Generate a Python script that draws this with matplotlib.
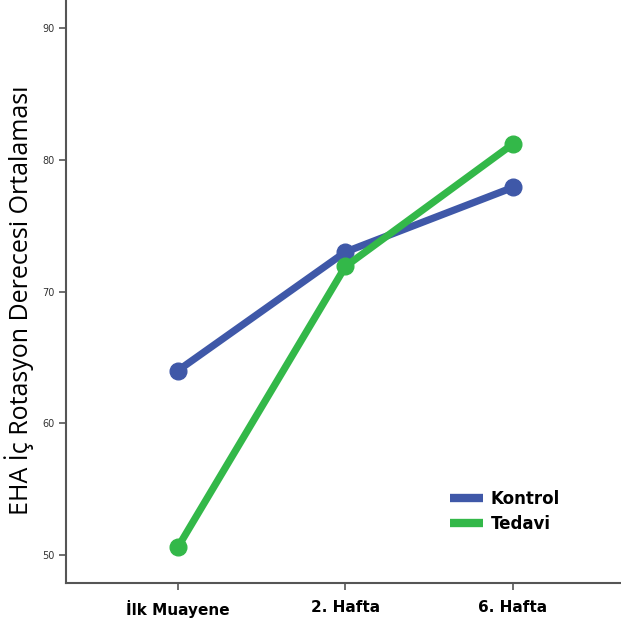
import matplotlib
matplotlib.use('Agg')
import matplotlib.pyplot as plt

# data
categories = ['İlk Muayene', '2. Hafta', '6. Hafta']
kontrol = [64.0, 73.0, 77.9]
tedavi = [50.6, 71.9, 81.2]
y_ticks = [50, 60, 70, 80, 90]

fig = plt.figure(figsize=(6.21, 6.31), dpi=100)
ax = fig.add_axes([66 / 621, 48 / 631, 1 - 66 / 621, 1 - 48 / 631])

x = list(range(len(categories)))
ax.plot(x, kontrol, color='#3F58A8', lw=5.2, marker='o', markersize=12,
        label='Kontrol', solid_capstyle='butt')
ax.plot(x, tedavi, color='#33B849', lw=5.2, marker='o', markersize=12,
        label='Tedavi', solid_capstyle='butt')

ax.set_xlim(-0.668, 2.645)
ax.set_ylim(47.88, 92.12)
ax.set_xticks(x)
ax.set_xticklabels(categories, fontsize=11, fontweight='bold')
ax.set_yticks(y_ticks)
ax.set_yticklabels([str(t) for t in y_ticks], fontsize=7, color='#333333')
ax.tick_params(axis='both', length=5, width=1.2, color='#555555')
ax.tick_params(axis='x', pad=7)

for side in ['top', 'right']:
    ax.spines[side].set_visible(False)
for side in ['left', 'bottom']:
    ax.spines[side].set_color('#555555')
    ax.spines[side].set_linewidth(1.5)

ax.set_ylabel('EHA İç Rotasyon Derecesi Ortalaması', fontsize=18,
              fontfamily='Open Sans')
ax.yaxis.set_label_coords(-0.057, 0.4845)

leg = ax.legend(loc='upper left', bbox_to_anchor=(0.665, 0.186), frameon=False,
                handlelength=2.0, handletextpad=0.45, labelspacing=0.45,
                prop={'weight': 'bold', 'size': 12})
for h in leg.legend_handles:
    h.set_marker('')
    h.set_linewidth(6)

fig.savefig('out.png', dpi=100)
